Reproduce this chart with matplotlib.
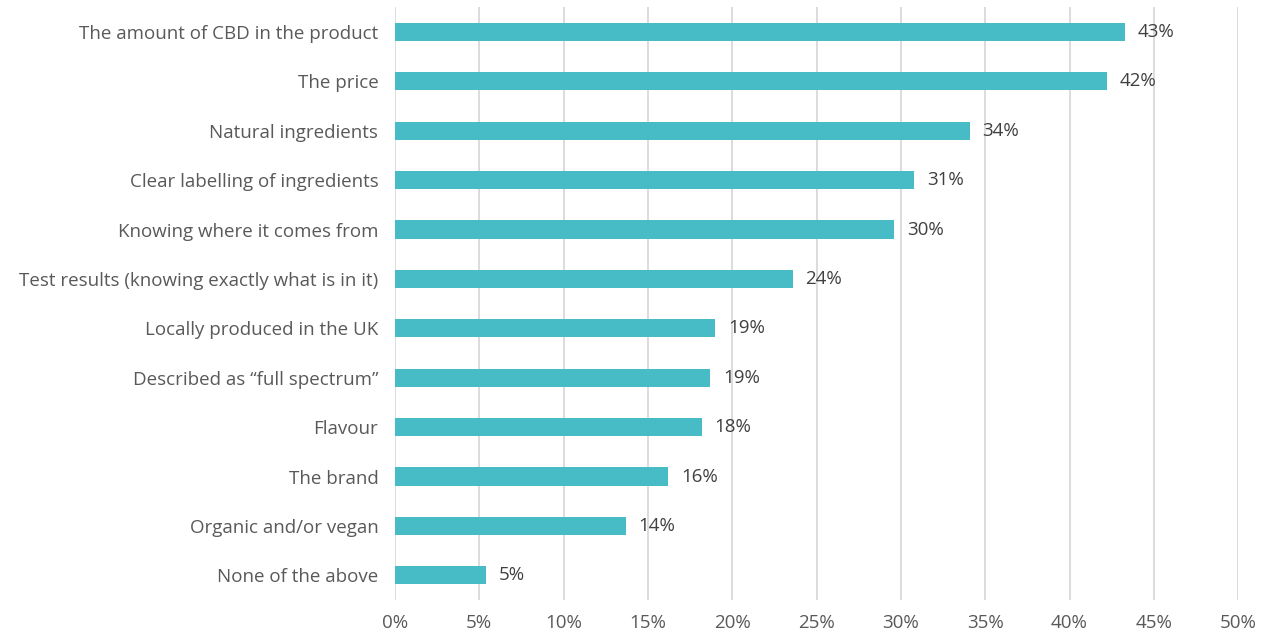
import matplotlib
matplotlib.use("Agg")
import matplotlib.pyplot as plt
from matplotlib.ticker import MultipleLocator, FuncFormatter

categorias = [
    "The amount of CBD in the product",
    "The price",
    "Natural ingredients",
    "Clear labelling of ingredients",
    "Knowing where it comes from",
    "Test results (knowing exactly what is in it)",
    "Locally produced in the UK",
    "Described as \u201cfull spectrum\u201d",
    "Flavour",
    "The brand",
    "Organic and/or vegan",
    "None of the above",
]
valores = [43.3, 42.2, 34.1, 30.8, 29.6, 23.6, 19.0, 18.7, 18.2, 16.2, 13.7, 5.4]

color_barra = "#47BCC6"
color_texto = "#595959"
color_etiqueta = "#404040"
color_grid = "#D9D9D9"

plt.rcParams["font.family"] = ["Open Sans", "DejaVu Sans"]

fig = plt.figure(figsize=(12.66, 6.32), dpi=100)
ax = fig.add_axes([0.312, 0.0506, 0.666, 0.938])

pos = list(range(len(categorias)))
ax.barh(pos, valores, height=0.37, color=color_barra, zorder=3)

for y, v in zip(pos, valores):
    ax.text(v + 0.75, y, f"{v:.0f}%", va="center", ha="left",
            fontsize=13.5, color=color_etiqueta)

ax.set_xlim(0, 50)
ax.set_ylim(len(categorias) - 0.5, -0.5)
ax.set_yticks(pos)
ax.set_yticklabels(categorias)

ax.xaxis.set_major_locator(MultipleLocator(5))
ax.xaxis.set_major_formatter(FuncFormatter(lambda x, _: f"{x:.0f}%"))
ax.grid(True, axis="x", color=color_grid, linewidth=1.3, zorder=0)

for s in ax.spines.values():
    s.set_visible(False)

ax.tick_params(axis="x", length=0, pad=10, labelsize=13.5, colors=color_texto)
ax.tick_params(axis="y", length=0, pad=12, labelsize=13.5, colors=color_texto)

fig.savefig("out.png", dpi=100)
